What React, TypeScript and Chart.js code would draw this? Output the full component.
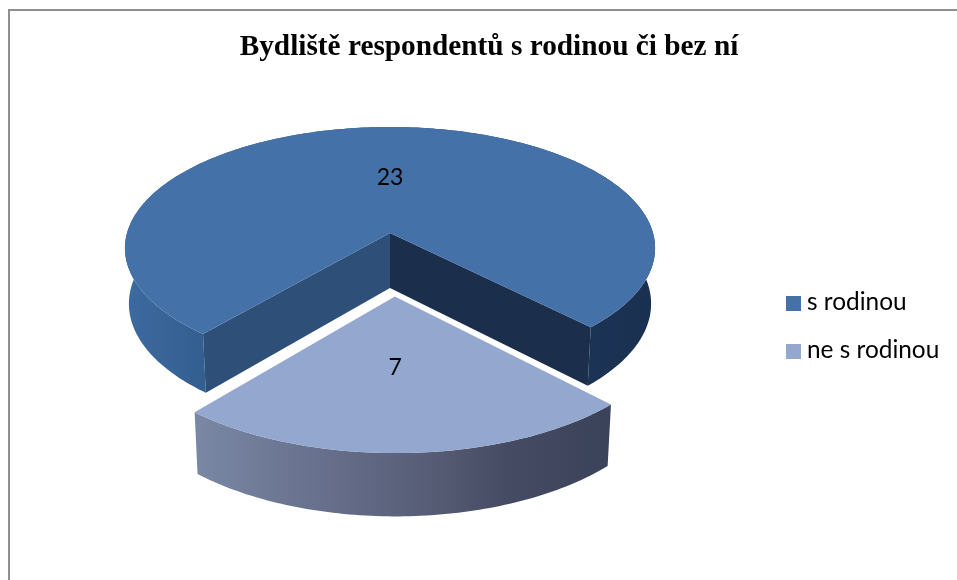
import { useEffect, useRef } from "react";
import { Chart, registerables } from "chart.js";

Chart.register(...registerables);

const chartTitle = "Bydliště respondentů s rodinou či bez ní";
const categories = ["s rodinou", "ne s rodinou"];
const respondents = [23, 7];
const explodeAmount = [0, 0.5];
const topColors = ["#4471a8", "#93a7cf"];

const FIRST_SLICE_ROTATION = 220;

// Projection of the unit pie disc onto the canvas
const APEX = { x: 390, y: 233 };
const RADIUS_X = 263;
const RADIUS_Y = 119.25;
const PERSPECTIVE = 0.125;
const DEPTH = 55;
const BOTTOM_SCALE_X = 0.985;
const BOTTOM_SCALE_Y = 0.98;
const LABEL_RADIUS = 0.49;

const LEGEND_FONT = '24.4px Lato, "Open Sans", sans-serif';
const VALUE_FONT = '23px Lato, "Open Sans", sans-serif';

type Pt = { x: number; y: number };

function project(u: number, v: number, lower: boolean): Pt {
  const s = 1 / (1 - PERSPECTIVE * v);
  const dx = RADIUS_X * u * s;
  const dy = RADIUS_Y * v * s;
  if (!lower) return { x: APEX.x + dx, y: APEX.y + dy };
  return {
    x: APEX.x + dx * BOTTOM_SCALE_X,
    y: APEX.y + dy * BOTTOM_SCALE_Y + DEPTH * s,
  };
}

function arcPoints(start: number, end: number, cu: number, cv: number, lower: boolean): Pt[] {
  const steps = Math.max(8, Math.ceil(((end - start) * 180) / Math.PI));
  const pts: Pt[] = [];
  for (let i = 0; i <= steps; i++) {
    const a = start + ((end - start) * i) / steps;
    pts.push(project(cu + Math.cos(a), cv + Math.sin(a), lower));
  }
  return pts;
}

function fillPoly(ctx: CanvasRenderingContext2D, pts: Pt[], fill: string | CanvasGradient) {
  ctx.beginPath();
  pts.forEach((p, i) => (i ? ctx.lineTo(p.x, p.y) : ctx.moveTo(p.x, p.y)));
  ctx.closePath();
  ctx.fillStyle = fill;
  ctx.fill();
}

function wallGradient(ctx: CanvasRenderingContext2D, x0: number, x1: number, stops: [number, string][]) {
  const g = ctx.createLinearGradient(x0, 0, x1, 0);
  stops.forEach(([o, c]) => g.addColorStop(o, c));
  return g;
}

const pie3d = {
  id: "pie3d",
  beforeDatasetDraw(chart: any) {
    const { ctx } = chart;
    const arcs = chart.getDatasetMeta(0).data;
    ctx.save();
    arcs.forEach((el: any, i: number) => {
      const { startAngle, endAngle } = el.getProps(["startAngle", "endAngle"]);
      const mid = (startAngle + endAngle) / 2;
      const cu = Math.cos(mid) * explodeAmount[i];
      const cv = Math.sin(mid) * explodeAmount[i];
      const topArc = arcPoints(startAngle, endAngle, cu, cv, false);
      const lowArc = arcPoints(startAngle, endAngle, cu, cv, true);
      const wall = [...topArc, ...lowArc.slice().reverse()];
      const xs = topArc.map((p) => p.x);
      const minX = Math.min(...xs);
      const maxX = Math.max(...xs);
      const apexTop = project(cu, cv, false);
      const apexLow = project(cu, cv, true);

      const shade: [number, string][] =
        i === 0
          ? [
              [0, "#3d6a9f"],
              [0.15, "#335e90"],
              [0.5, "#2a4a75"],
              [0.87, "#1b3355"],
              [1, "#1a3050"],
            ]
          : [
              [0, "#7a88a5"],
              [0.35, "#646c88"],
              [0.6, "#545a72"],
              [0.75, "#454b63"],
              [1, "#3a4259"],
            ];
      fillPoly(ctx, wall, wallGradient(ctx, minX, maxX, shade));

      if (i === 0) {
        // Cut faces seen through the gap left by the pulled-out slice
        fillPoly(ctx, [apexTop, topArc[0], lowArc[0], apexLow], "#2d4f78");
        fillPoly(
          ctx,
          [apexTop, topArc[topArc.length - 1], lowArc[lowArc.length - 1], apexLow],
          "#1b2f4c"
        );
      }
      fillPoly(ctx, [apexTop, ...topArc], topColors[i]);
    });

    // Value labels on the top faces
    ctx.fillStyle = "#000";
    ctx.font = VALUE_FONT;
    ctx.textAlign = "center";
    ctx.textBaseline = "middle";
    arcs.forEach((el: any, i: number) => {
      const { startAngle, endAngle } = el.getProps(["startAngle", "endAngle"]);
      const mid = (startAngle + endAngle) / 2;
      const p = project(
        Math.cos(mid) * explodeAmount[i],
        Math.sin(mid) * (explodeAmount[i] + LABEL_RADIUS),
        false
      );
      ctx.fillText(String(respondents[i]), p.x, p.y);
    });
    ctx.restore();
    return false;
  },
  afterDraw(chart: any) {
    // Legend on the right: square swatch and category name per row
    const { ctx } = chart;
    ctx.save();
    ctx.font = LEGEND_FONT;
    ctx.textAlign = "left";
    ctx.textBaseline = "middle";
    categories.forEach((name, i) => {
      const y = 296 + i * 48;
      ctx.fillStyle = topColors[i];
      ctx.fillRect(786, y, 15, 15);
      ctx.fillStyle = "#000";
      ctx.fillText(name, 807, y + 6);
    });
    ctx.restore();
  },
};

export default function App() {
  const ref = useRef<HTMLCanvasElement>(null);

  useEffect(() => {
    const chart = new Chart(ref.current!, {
      type: "pie",
      data: {
        labels: categories,
        datasets: [{ data: respondents, backgroundColor: topColors, borderWidth: 0 }],
      },
      options: {
        animation: false,
        responsive: false,
        devicePixelRatio: 1,
        rotation: FIRST_SLICE_ROTATION,
        layout: { padding: { left: 21 } },
        plugins: {
          legend: { display: false },
          tooltip: { enabled: false },
          title: {
            display: true,
            text: chartTitle,
            color: "#000",
            font: { family: '"Liberation Serif", serif', size: 29.3, weight: "bold" },
            padding: { top: 30, bottom: 20 },
          },
        },
      },
      plugins: [pie3d],
    } as any);
    return () => chart.destroy();
  }, []);

  return (
    <div style={{ position: "fixed", left: 0, top: 0, width: 957, height: 580, background: "#fff", overflow: "hidden" }}>
      <div
        style={{
          position: "absolute",
          left: 8,
          top: 9,
          right: 0,
          bottom: 0,
          borderLeft: "2px solid #8f8f8f",
          borderTop: "2px solid #8f8f8f",
        }}
      />
      <canvas ref={ref} width={957} height={580} style={{ position: "absolute", left: 0, top: 0 }} />
    </div>
  );
}
